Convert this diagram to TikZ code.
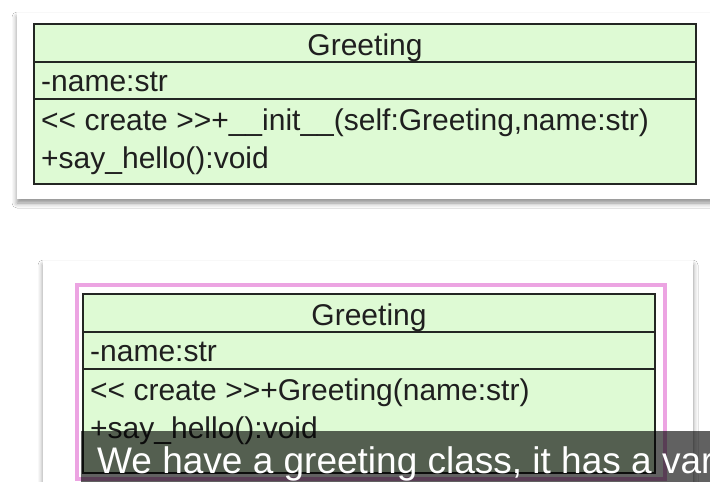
\documentclass[tikz,border=0pt]{standalone}
\usepackage{fontspec}
\setmainfont{Liberation Sans}
\usetikzlibrary{shadows.blur}
\definecolor{umlgreen}{RGB}{222,250,212}
\definecolor{umlline}{RGB}{35,38,35}
\definecolor{selpink}{RGB}{236,164,226}
\tikzset{
card/.style={fill=white, blur shadow={shadow xshift=0pt, shadow yshift=-4pt, shadow blur radius=5pt, shadow opacity=45}},
umlbox/.style={draw=umlline, line width=1.6pt, fill=umlgreen},
sep/.style={draw=umlline, line width=1.6pt},
member/.style={inner sep=0pt, anchor=base west, font=\fontsize{30}{36}\selectfont, text=black!88},
classname/.style={member, anchor=base},
subtitle/.style={inner sep=0pt, anchor=base west, font=\fontsize{37}{44}\selectfont, text=white}
}
\newcommand{\stereo}[1]{{<}{<} #1 {>}{>}}

\begin{document}
\begin{tikzpicture}[x=1pt,y=-1pt]
\useasboundingbox (0,0) rectangle (710,482);
\clip (0,0) rectangle (710,482);
\fill[white] (0,0) rectangle (710,482);
%python class
\path[card] (17,13) rectangle (720,199);
\path[umlbox] (34,24) rectangle (696,184);
\draw[sep] (34,62) -- (696,62) (34,99) -- (696,99);
\node[classname] (pyname) at (365,55) {Greeting};
\node[member] (pyattr) at (41,91) {-name:str};
\node[member] (pyinit) at (41,130) {\stereo{create}+\_\_init\_\_(self:Greeting,name:str)};
\node[member] (pyhello) at (41,168) {+say\_hello():void};
%java class
\path[card] (43,261) rectangle (693,520);
\draw[selpink, line width=3.5pt] (77,285) rectangle (665,479);
\path[umlbox] (83,294) rectangle (655,473);
\draw[sep] (83,332) -- (655,332) (83,369) -- (655,369);
\node[classname] (jname) at (369,325) {Greeting};
\node[member] (jattr) at (90,361) {-name:str};
\node[member] (jinit) at (90,400) {\stereo{create}+Greeting(name:str)};
\node[member] (jhello) at (90,438) {+say\_hello():void};
\fill[black, fill opacity=0.62] (81,431) rectangle (720,490);
\node[subtitle] (caption) at (97,473) {We have a greeting class, it has a var};
\end{tikzpicture}
\end{document}
